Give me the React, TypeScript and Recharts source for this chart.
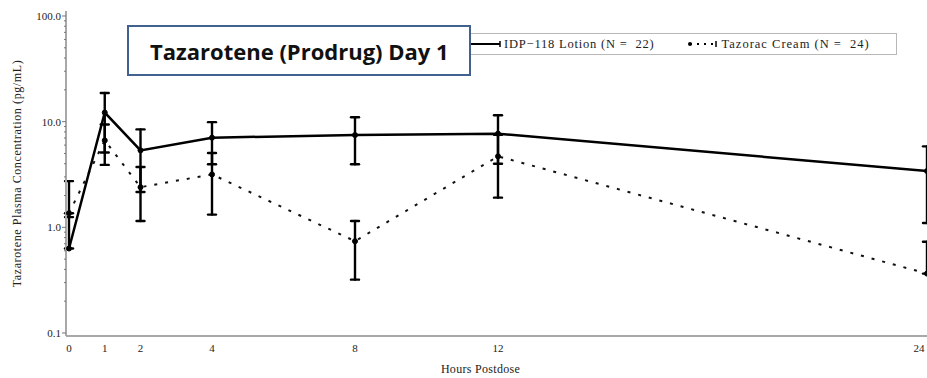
import React from 'react';
import { LineChart, Line, XAxis, YAxis, ErrorBar } from 'recharts';

// Sampling times (hours postdose)
const hours = [0, 1, 2, 4, 8, 12, 24];

// IDP-118 Lotion: mean and error-bar limits (pg/mL)
const lotionMean = [0.63, 12.2, 5.35, 7.06, 7.47, 7.7, 3.41];
const lotionHigh = [1.25, 18.7, 8.45, 9.9, 11.0, 11.5, 5.84];
const lotionLow = [0.63, 5.1, 2.16, 3.95, 3.95, 4.0, 1.1];

// Tazorac Cream: mean and error-bar limits (pg/mL)
const creamMean = [1.36, 6.65, 2.4, 3.17, 0.74, 4.7, 0.365];
const creamHigh = [2.74, 9.4, 3.72, 5.05, 1.15, 7.5, 0.73];
const creamLow = [1.36, 3.9, 1.15, 1.32, 0.32, 1.91, 0.365];

// Axis ticks
const xTicks = [0, 1, 2, 4, 8, 12, 24];
const yMajorTicks = [0.1, 1, 10, 100];
const yMajorLabels = ['0.1', '1.0', '10.0', '100.0'];
const yMinorSteps = [2, 3, 4, 5, 6, 7, 8, 9];

const seriesNames = ['IDP\u2212118 Lotion (N =  22)', 'Tazorac Cream (N =  24)'];
const titleText = 'Tazarotene (Prodrug) Day 1';

const yTicks: number[] = [];
yMajorTicks.forEach((d, i) => {
  yTicks.push(d);
  if (i < yMajorTicks.length - 1) yMinorSteps.forEach((k) => yTicks.push(+(d * k).toPrecision(3)));
});

const data = hours.map((h, i) => ({
  hour: h,
  lotion: lotionMean[i],
  lotionErr: [lotionMean[i] - lotionLow[i], lotionHigh[i] - lotionMean[i]],
  cream: creamMean[i],
  creamErr: [creamMean[i] - creamLow[i], creamHigh[i] - creamMean[i]],
}));

const SERIF = '"Liberation Serif", "DejaVu Serif", serif';
const FRAME = '#a8a8a8';

const YTick = (props: any) => {
  const { x, y, payload } = props;
  const idx = yMajorTicks.indexOf(payload.value);
  const major = idx >= 0;
  return (
    <g>
      <line x1={x - (major ? 4 : 2)} x2={x} y1={y} y2={y} stroke="#777" strokeWidth={1} />
      {major && (
        <text x={x - 5} y={y} dy="0.35em" textAnchor="end" fontSize={11} fontFamily={SERIF} fill="#222">
          {yMajorLabels[idx]}
        </text>
      )}
    </g>
  );
};

const XTick = (props: any) => {
  const { x, y, payload } = props;
  return (
    <text x={x} y={y + 12} dy="0.35em" textAnchor="middle" fontSize={11} fontFamily={SERIF} fill="#222">
      {payload.value}
    </text>
  );
};

const LegendBox = () => (
  <div
    style={{
      position: 'absolute',
      left: 455,
      top: 33,
      width: 442,
      height: 22,
      border: '1px solid #b8b8b8',
      background: '#fff',
      display: 'flex',
      alignItems: 'center',
      fontFamily: SERIF,
      fontSize: 12.5,
      letterSpacing: 0.8,
      color: '#222',
      boxSizing: 'border-box',
      whiteSpace: 'pre',
    }}
  >
    <svg width={32} height={12} style={{ marginLeft: 14 }}>
      <line x1={1} x2={30} y1={6} y2={6} stroke="#000" strokeWidth={2} />
      <line x1={30} x2={30} y1={3} y2={9} stroke="#000" strokeWidth={1.5} />
    </svg>
    <span style={{ marginLeft: 2 }}>{seriesNames[0]}</span>
    <svg width={32} height={12} style={{ marginLeft: 32 }}>
      <line x1={3} x2={29} y1={6} y2={6} stroke="#000" strokeWidth={2} strokeDasharray="2 5" />
      <circle cx={3} cy={6} r={2} fill="#000" />
      <line x1={29} x2={29} y1={3} y2={9} stroke="#000" strokeWidth={1.5} />
    </svg>
    <span style={{ marginLeft: 3, letterSpacing: 1 }}>{seriesNames[1]}</span>
  </div>
);

export default function App() {
  return (
    <div style={{ position: 'absolute', left: 0, top: 0, width: 927, height: 378, background: '#fff' }}>
      <LineChart width={927} height={378} data={data} margin={{ top: 11, right: 0, bottom: 0, left: 0 }}>
        <XAxis
          dataKey="hour"
          type="number"
          domain={[0, 24]}
          ticks={xTicks}
          padding={{ left: 3, right: 0 }}
          height={42}
          tickLine={false}
          tickSize={0}
          tickMargin={0}
          tick={<XTick />}
          axisLine={{ stroke: FRAME, strokeWidth: 2 }}
          label={{
            value: 'Hours Postdose',
            position: 'center',
            dy: 12,
            dx: -16,
            fontSize: 12,
            letterSpacing: 0.3,
            fontFamily: SERIF,
            fill: '#222',
          }}
        />
        <XAxis
          xAxisId="top"
          dataKey="hour"
          type="number"
          domain={[0, 24]}
          orientation="top"
          height={0}
          tick={false}
          tickLine={false}
          axisLine={{ stroke: FRAME, strokeWidth: 2 }}
        />
        <YAxis
          type="number"
          scale="log"
          domain={[0.0937, 111.5]}
          allowDataOverflow
          ticks={yTicks}
          interval={0}
          width={66}
          tickLine={false}
          tickSize={0}
          tickMargin={0}
          tick={<YTick />}
          axisLine={{ stroke: FRAME, strokeWidth: 2 }}
          label={{
            value: 'Tazarotene Plasma Concentration (pg/mL)',
            angle: -90,
            position: 'center',
            dx: -16,
            fontSize: 12,
            letterSpacing: 0.6,
            fontFamily: SERIF,
            fill: '#222',
          }}
        />
        <Line
          name={seriesNames[1]}
          type="linear"
          dataKey="cream"
          stroke="#111"
          strokeWidth={2}
          strokeDasharray="3 8"
          dot={{ r: 2.5, fill: '#000', stroke: '#000', strokeWidth: 1, strokeDasharray: '' }}
          isAnimationActive={false}
        >
          <ErrorBar dataKey="creamErr" direction="y" width={4} stroke="#000" strokeWidth={2.4} strokeLinecap="round" />
        </Line>
        <Line
          name={seriesNames[0]}
          type="linear"
          dataKey="lotion"
          stroke="#000"
          strokeWidth={2.5}
          dot={{ r: 2.5, fill: '#000', stroke: '#000', strokeWidth: 1 }}
          isAnimationActive={false}
        >
          <ErrorBar dataKey="lotionErr" direction="y" width={4} stroke="#000" strokeWidth={2.4} strokeLinecap="round" />
        </Line>
      </LineChart>
      <LegendBox />
      <div
        style={{
          position: 'absolute',
          left: 127,
          top: 25,
          width: 344,
          height: 51,
          boxSizing: 'border-box',
          border: '2px solid #41618f',
          background: '#fff',
          display: 'flex',
          alignItems: 'center',
          paddingLeft: 21,
          fontFamily: '"Open Sans", "Noto Sans", sans-serif',
          fontWeight: 700,
          fontSize: 22,
          color: '#111',
          whiteSpace: 'nowrap',
        }}
      >
        {titleText}
      </div>
    </div>
  );
}
